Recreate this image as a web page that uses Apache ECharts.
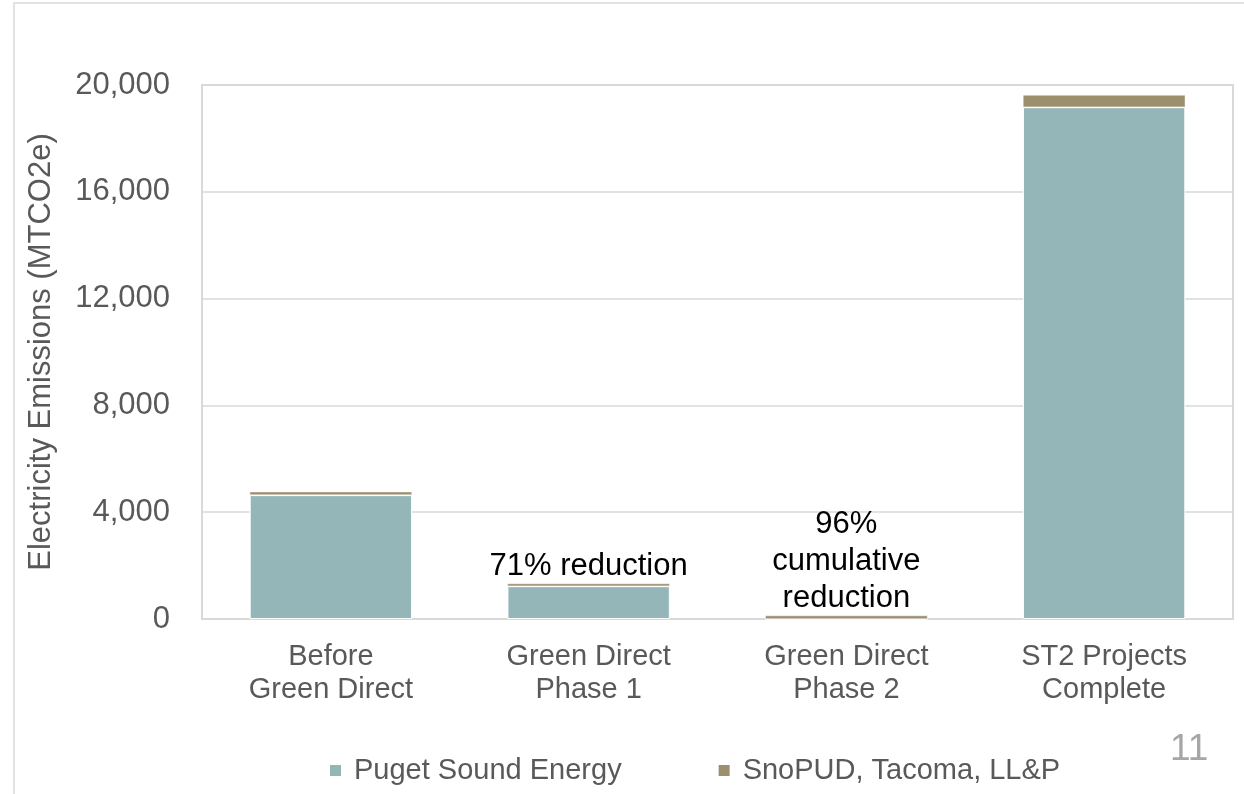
<!DOCTYPE html>
<html>
<head>
<meta charset="utf-8">
<script src="https://cdn.jsdelivr.net/npm/echarts@6/dist/echarts.min.js"></script>
<style>
html,body{margin:0;padding:0;background:#fff;}
#chart{width:1244px;height:794px;}
</style>
</head>
<body>
<div id="chart"></div>
<script>
const categories = ['Before\nGreen Direct', 'Green Direct\nPhase 1', 'Green Direct\nPhase 2', 'ST2 Projects\nComplete'];
const pugetSound = [4640, 1230, 0, 19170];
const snoPudTacoma = [130, 100, 130, 460];
const annotations = ['', '71% reduction', '96%\ncumulative\nreduction', ''];
const yTicks = { min: 0, max: 20000, interval: 4000 };
const seriesNames = ['Puget Sound Energy', 'SnoPUD, Tacoma, LL&P'];
const pageNumber = '11';

const FONT = '"Liberation Sans", Arial, sans-serif';
const GRAY = '#595959';

const chart = echarts.init(document.getElementById('chart'));
chart.setOption({
  animation: false,
  backgroundColor: '#fff',
  textStyle: { fontFamily: FONT },
  grid: { left: 202, right: 11, top: 85, bottom: 175, show: true, borderColor: '#d9d9d9', borderWidth: 2, containLabel: false },
  legend: {
    left: 323, bottom: 4,
    icon: 'rect', itemWidth: 13, itemHeight: 13, itemGap: 95,
    textStyle: { fontFamily: FONT, fontSize: 29, color: GRAY, padding: [0, 0, 0, 7] },
    data: seriesNames
  },
  xAxis: {
    type: 'category',
    data: categories,
    axisTick: { show: false },
    axisLine: { lineStyle: { color: '#d9d9d9', width: 2 } },
    axisLabel: { fontFamily: FONT, fontSize: 29, lineHeight: 33, color: GRAY, margin: 21 }
  },
  yAxis: {
    type: 'value',
    min: yTicks.min, max: yTicks.max, interval: yTicks.interval,
    name: 'Electricity Emissions (MTCO2e)',
    nameLocation: 'middle', nameRotate: 90, nameGap: 145,
    nameTextStyle: { fontFamily: FONT, fontSize: 31, color: GRAY },
    axisLine: { show: false }, axisTick: { show: false },
    splitLine: { lineStyle: { color: '#d9d9d9', width: 1.5 } },
    axisLabel: { fontFamily: FONT, fontSize: 31, color: GRAY, margin: 32,
      formatter: v => v.toLocaleString('en-US') }
  },
  series: [
    {
      name: seriesNames[0], type: 'bar', stack: 'total', barWidth: '63%',
      itemStyle: { color: '#95b6b9', borderColor: '#fff', borderWidth: 1 },
      data: pugetSound
    },
    {
      name: seriesNames[1], type: 'bar', stack: 'total', barWidth: '63%',
      itemStyle: { color: '#9c8f6e', borderColor: '#fff', borderWidth: 0.5 },
      data: snoPudTacoma,
      label: {
        show: true, position: 'top', distance: -1,
        fontFamily: FONT, fontSize: 31, lineHeight: 37, color: '#000',
        formatter: p => annotations[p.dataIndex]
      }
    }
  ],
  graphic: [
    { type: 'rect', silent: true, shape: { x: 14, y: 3, width: 1400, height: 1000 },
      style: { fill: 'none', stroke: '#d9d9d9', lineWidth: 1.5 } },
    { type: 'text', left: 1170, top: 731, silent: true,
      style: { text: pageNumber, fontFamily: FONT, fontSize: 37, fill: '#a6a6a6' } }
  ]
});
</script>
</body>
</html>
